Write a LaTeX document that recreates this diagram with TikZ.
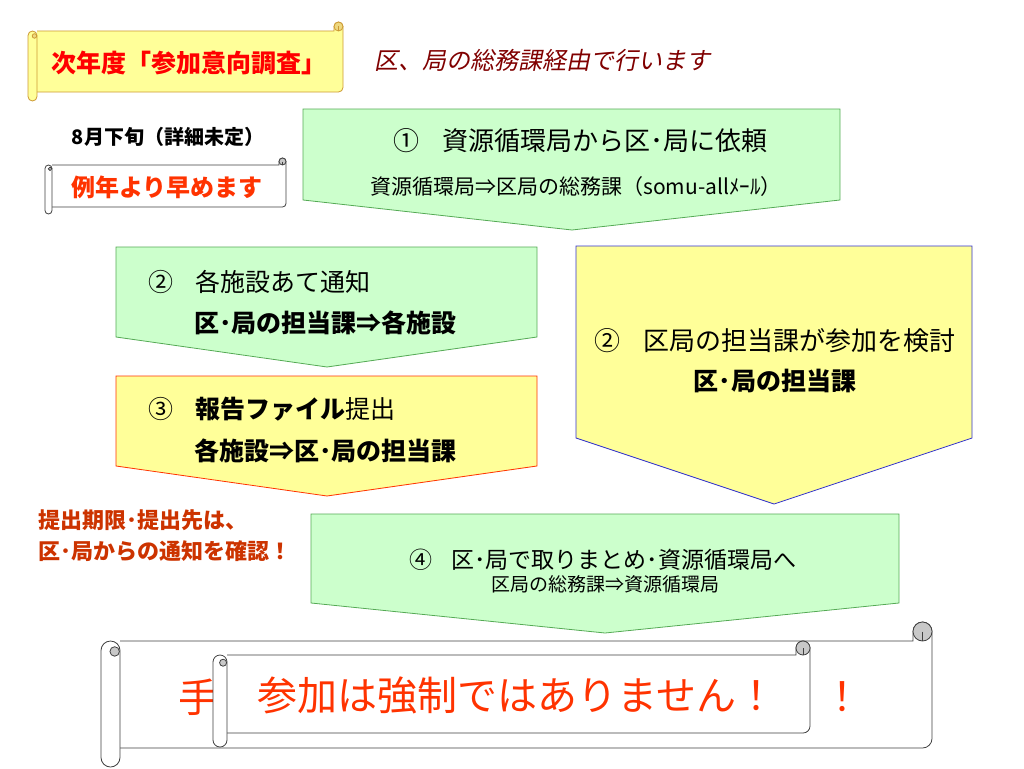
\documentclass[tikz,border=0pt]{standalone}
\usepackage{fontspec}
\setmainfont{Noto Sans CJK JP}
\newfontfamily\jpslant{Noto Sans CJK JP}[FakeSlant=0.2]
\definecolor{stepgreen}{HTML}{CCFFCC}
\definecolor{greenline}{HTML}{55AA55}
\definecolor{stepyellow}{HTML}{FFFF99}
\definecolor{redline}{HTML}{FF3300}
\definecolor{blueline}{HTML}{3333CC}
\definecolor{scrollline}{HTML}{CC9933}
\definecolor{scrollcurl}{HTML}{EED880}
\definecolor{grayline}{HTML}{404040}
\definecolor{graycurl}{HTML}{C8C8C8}
\definecolor{titlered}{HTML}{FF0000}
\definecolor{notered}{HTML}{800000}
\definecolor{orangered}{HTML}{FF3300}
\definecolor{warnred}{HTML}{CC3300}
\newcommand\fsz[1]{\fontsize{#1}{#1}\selectfont}
% the five down arrows
\def\stepone{(303,109) -- (840,109) -- (840,200) -- (572,230) -- (303,200) -- cycle}
\def\steptwoleft{(116,247) -- (537,247) -- (537,337) -- (327,367) -- (116,337) -- cycle}
\def\stepthree{(116,376) -- (537,376) -- (537,466) -- (327,496) -- (116,466) -- cycle}
\def\steptworight{(576,246) -- (972,246) -- (972,438) -- (774,504) -- (576,438) -- cycle}
\def\stepfour{(311,514) -- (899,514) -- (899,603) -- (605,633) -- (311,603) -- cycle}
% horizontal scroll: left, top, right, bottom, roll, fill, line, curl
\newcommand\hscroll[8]{%
	\pgfmathsetmacro\xa{#1+#5}%
	\pgfmathsetmacro\xq{#1+0.72*#5}%
	\pgfmathsetmacro\xb{#3-#5}%
	\pgfmathsetmacro\xc{#3-#5/2}%
	\pgfmathsetmacro\ya{#2+#5/2}%
	\pgfmathsetmacro\yb{#2+#5}%
	\pgfmathsetmacro\yc{#2+1.55*#5}%
	\pgfmathsetmacro\yd{#4-#5}%
	\pgfmathsetmacro\ye{#4-1.5*#5}%
	\pgfmathsetmacro\rr{#5/2}%
	\filldraw[fill=#6,draw=#7] (\xa,\yb) -- (\xb,\yb) -- (\xb,\ya)
		arc[start angle=180,end angle=360,radius=\rr] -- (#3,\ye)
		arc[start angle=0,end angle=90,radius=\rr] -- (\xa,\yd);
	\filldraw[fill=#8,draw=#7] (\xc,\ya) circle[radius=\rr];
	\draw[#7] (\xc,\ya) -- (\xc,\yb);
	\filldraw[fill=#6,draw=#7,rounded corners=\rr pt] (#1,\yb) rectangle (\xa,#4);
	\filldraw[fill=#8,draw=#7] (\xq,\yc) circle[radius=\rr/2];
}

\begin{document}
\begin{tikzpicture}[x=1pt,y=-1pt,line width=0.8pt,every node/.style={inner sep=0pt}]
	\useasboundingbox (0,0) rectangle (1024,768);
	
	%top left notes
	\hscroll{28}{22}{343}{101}{9}{stepyellow}{scrollline}{scrollcurl}
	\node[text=titlered] (title) at (189,63) {\fsz{25}\bfseries 次年度「参加意向調査」};
	\node[text=notered] (note) at (542,60) {\jpslant\fsz{24}区、局の総務課経由で行います};
	\node (date) at (168,137) {\fsz{20}\bfseries 8月下旬（詳細未定）};
	\hscroll{45}{158}{286}{214}{7}{white}{grayline}{graycurl}
	\node[text=orangered] (early) at (167,187) {\fsz{24}\bfseries 例年より早めます};
	
	%the steps
	\filldraw[fill=stepgreen,draw=greenline] \stepone;
	\node[anchor=west] (s1a) at (393,141) {\fsz{26}①\hspace{0.9em}資源循環局から区･局に依頼};
	\node[anchor=west] (s1b) at (370,187) {\fsz{21}資源循環局⇒区局の総務課（somu-allﾒｰﾙ）};
	
	\filldraw[fill=stepgreen,draw=greenline] \steptwoleft;
	\node[anchor=west] (s2a) at (148,282) {\fsz{25}②\hspace{0.9em}各施設あて通知};
	\node[anchor=west] (s2b) at (194,323) {\fsz{25}\bfseries 区･局の担当課⇒各施設};
	
	\filldraw[fill=stepyellow,draw=redline] \stepthree;
	\node[anchor=west] (s3a) at (148,409) {\fsz{25}③\hspace{0.9em}{\bfseries 報告ファイル}提出};
	\node[anchor=west] (s3b) at (194,451) {\fsz{25}\bfseries 各施設⇒区･局の担当課};
	
	\filldraw[fill=stepyellow,draw=blueline] \steptworight;
	\node[anchor=west] (s2ra) at (594,341) {\fsz{26}②\hspace{0.9em}区局の担当課が参加を検討};
	\node (s2rb) at (775,381) {\fsz{25}\bfseries 区･局の担当課};
	
	\node[anchor=west,text=warnred] (warn1) at (38,520) {\fsz{22}\bfseries 提出期限･提出先は、};
	\node[anchor=west,text=warnred] (warn2) at (38,551) {\fsz{22}\bfseries 区･局からの通知を確認！};
	
	\filldraw[fill=stepgreen,draw=greenline] \stepfour;
	\node (s4a) at (603,560) {\fsz{23}④\hspace{0.8em}区･局で取りまとめ･資源循環局へ};
	\node (s4b) at (605,584) {\fsz{19}区局の総務課⇒資源循環局};
	
	%bottom scrolls
	\hscroll{101}{622}{932}{767}{19}{white}{grayline}{graycurl}
	\node[text=orangered] (te) at (198,697) {\fsz{40}手};
	\node[text=orangered] (bang) at (842,697) {\fsz{40}！};
	\hscroll{213}{641}{810}{747}{14}{white}{grayline}{graycurl}
	\node[text=orangered] (notforced) at (517,695) {\fsz{40}参加は強制ではありません！};
\end{tikzpicture}
\end{document}
